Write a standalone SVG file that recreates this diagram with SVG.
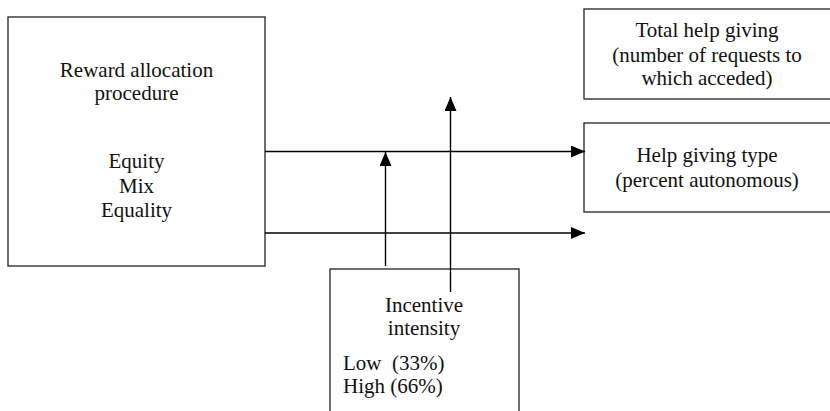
<svg xmlns="http://www.w3.org/2000/svg" width="830" height="411" viewBox="0 0 830 411">
<style>
.box{fill:#fff;stroke:#222;stroke-width:1.3}
.conn{stroke:#000;stroke-width:1.4;fill:none}
text{font-family:"Liberation Serif","Times New Roman",serif;font-size:21px;fill:#111}
.c{text-anchor:middle}
</style>
<defs>
<marker id="ah" markerUnits="userSpaceOnUse" markerWidth="14" markerHeight="12" refX="14" refY="6" orient="auto">
<path d="M0,0 L14,6 L0,12 Z" fill="#000"/>
</marker>
</defs>
<g id="reward">
<rect class="box" x="8" y="17" width="257" height="249"/>
<text class="c" x="136.5" y="77">Reward allocation</text>
<text class="c" x="136.5" y="100">procedure</text>
<text class="c" x="136.5" y="168">Equity</text>
<text class="c" x="136.5" y="193">Mix</text>
<text class="c" x="136.5" y="217">Equality</text>
</g>
<g id="total">
<rect class="box" x="584" y="9" width="260" height="90"/>
<text class="c" x="707" y="37">Total help giving</text>
<text class="c" x="707" y="62">(number of requests to</text>
<text class="c" x="707" y="85">which acceded)</text>
</g>
<g id="type">
<rect class="box" x="584" y="123" width="260" height="89"/>
<text class="c" x="707" y="162">Help giving type</text>
<text class="c" x="707" y="187">(percent autonomous)</text>
</g>
<g id="incentive">
<rect class="box" x="330" y="269" width="189" height="160"/>
<text class="c" x="424" y="312">Incentive</text>
<text class="c" x="424" y="335">intensity</text>
<text x="343" y="370" xml:space="preserve">Low  (33%)</text>
<text x="343" y="393">High (66%)</text>
</g>
<g id="connectors">
<line class="conn" x1="265" y1="151.5" x2="585" y2="151.5" marker-end="url(#ah)"/>
<line class="conn" x1="265" y1="233" x2="585" y2="233" marker-end="url(#ah)"/>
<line class="conn" x1="385.5" y1="266" x2="385.5" y2="152" marker-end="url(#ah)"/>
<line class="conn" x1="450.5" y1="292" x2="450.5" y2="97" marker-end="url(#ah)"/>
</g>
</svg>
